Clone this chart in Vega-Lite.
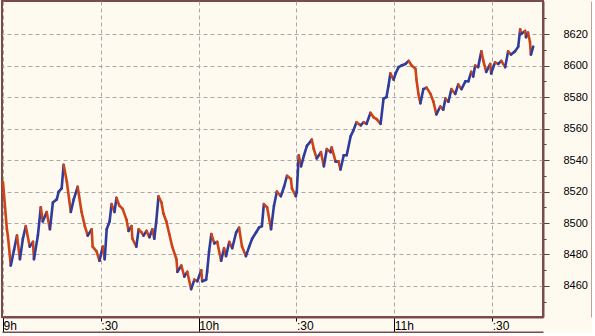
{
 "$schema": "https://vega.github.io/schema/vega-lite/v6.json",
 "width": 541,
 "height": 316,
 "padding": {"left": 1, "top": 1, "right": 0, "bottom": 0},
 "background": "#FFFAF0",
 "config": {"view": {"stroke": "#7B4B4B", "strokeWidth": 2, "fill": "#FFFAF0"}, "font": "Liberation Sans"},
 "data": {"values": [
  {"m":0,"v":8526},{"m":1.2,"v":8496},{"m":1.5,"v":8492},{"m":2.4,"v":8473},{"m":3.4,"v":8483},{"m":4.3,"v":8492},{"m":5.2,"v":8477},{"m":6.1,"v":8490},{"m":7.0,"v":8498},{"m":8.2,"v":8485},
  {"m":9.2,"v":8488},{"m":9.5,"v":8477},{"m":10.7,"v":8492},{"m":11.6,"v":8510},{"m":12.2,"v":8501},{"m":13.4,"v":8507},{"m":14.4,"v":8496},{"m":15.3,"v":8513},{"m":16.5,"v":8515},{"m":17.1,"v":8520},
  {"m":18.0,"v":8522},{"m":18.6,"v":8537},{"m":19.6,"v":8526},{"m":20.8,"v":8507},{"m":21.7,"v":8515},{"m":22.9,"v":8523},{"m":24.1,"v":8507},{"m":25.1,"v":8498},{"m":26.0,"v":8492},{"m":27.2,"v":8496},
  {"m":27.5,"v":8485},{"m":28.7,"v":8482},{"m":29.6,"v":8476},{"m":30.6,"v":8485},{"m":31.2,"v":8477},{"m":31.8,"v":8496},{"m":32.7,"v":8501},{"m":33.3,"v":8512},{"m":34.2,"v":8507},{"m":34.8,"v":8516},
  {"m":35.7,"v":8511},{"m":36.7,"v":8509},{"m":37.9,"v":8502},{"m":38.5,"v":8495},{"m":39.4,"v":8498},{"m":39.7,"v":8490},{"m":40.9,"v":8485},{"m":41.6,"v":8496},{"m":42.5,"v":8494},{"m":43.1,"v":8492},
  {"m":44.0,"v":8495},{"m":44.9,"v":8491},{"m":45.8,"v":8496},{"m":46.4,"v":8490},{"m":47.0,"v":8501},{"m":47.7,"v":8517},{"m":48.6,"v":8513},{"m":49.2,"v":8506},{"m":50.1,"v":8501},{"m":51.0,"v":8493},
  {"m":51.9,"v":8485},{"m":53.2,"v":8477},{"m":53.5,"v":8469},{"m":54.7,"v":8473},{"m":55.6,"v":8466},{"m":56.5,"v":8469},{"m":57.7,"v":8458},{"m":58.7,"v":8464},{"m":59.6,"v":8463},{"m":60.8,"v":8470},
  {"m":61.1,"v":8463},{"m":62.3,"v":8464},{"m":62.6,"v":8469},{"m":63.2,"v":8482},{"m":63.9,"v":8493},{"m":64.8,"v":8487},{"m":65.7,"v":8488},{"m":66.9,"v":8476},{"m":67.8,"v":8484},{"m":68.4,"v":8479},
  {"m":69.4,"v":8488},{"m":70.3,"v":8484},{"m":71.5,"v":8494},{"m":72.4,"v":8497},{"m":73.3,"v":8485},{"m":74.5,"v":8479},{"m":75.5,"v":8485},{"m":76.4,"v":8490},{"m":77.6,"v":8494},{"m":78.5,"v":8497},
  {"m":79.4,"v":8498},{"m":80.0,"v":8512},{"m":81.0,"v":8510},{"m":82.2,"v":8496},{"m":83.1,"v":8511},{"m":84.0,"v":8520},{"m":85.2,"v":8517},{"m":86.2,"v":8523},{"m":87.1,"v":8530},{"m":88.3,"v":8528},
  {"m":88.6,"v":8522},{"m":89.8,"v":8517},{"m":90.1,"v":8520},{"m":90.7,"v":8543},{"m":91.4,"v":8536},{"m":92.3,"v":8543},{"m":93.2,"v":8549},{"m":94.4,"v":8552},{"m":94.7,"v":8553},{"m":95.3,"v":8547},
  {"m":96.2,"v":8541},{"m":97.5,"v":8545},{"m":98.4,"v":8536},{"m":99.3,"v":8547},{"m":100.5,"v":8545},{"m":100.8,"v":8548},{"m":102.0,"v":8539},{"m":102.9,"v":8539},{"m":103.5,"v":8534},{"m":104.5,"v":8543},
  {"m":105.4,"v":8543},{"m":106.6,"v":8555},{"m":107.5,"v":8559},{"m":108.4,"v":8564},{"m":109.7,"v":8562},{"m":110.6,"v":8564},{"m":111.5,"v":8563},{"m":112.7,"v":8570},{"m":113.7,"v":8567},{"m":114.6,"v":8566},
  {"m":115.8,"v":8563},{"m":116.7,"v":8579},{"m":117.6,"v":8580},{"m":118.2,"v":8587},{"m":118.8,"v":8595},{"m":119.8,"v":8591},{"m":120.4,"v":8595},{"m":121.3,"v":8599},{"m":122.2,"v":8600},{"m":123.4,"v":8601},
  {"m":124.4,"v":8603},{"m":125.3,"v":8600},{"m":126.5,"v":8598},{"m":126.8,"v":8591},{"m":127.4,"v":8582},{"m":128.0,"v":8576},{"m":128.9,"v":8585},{"m":129.9,"v":8586},{"m":131.1,"v":8582},{"m":132.0,"v":8577},
  {"m":132.9,"v":8569},{"m":134.1,"v":8574},{"m":135.0,"v":8572},{"m":135.7,"v":8579},{"m":136.6,"v":8577},{"m":137.5,"v":8585},{"m":138.7,"v":8582},{"m":139.6,"v":8588},{"m":140.6,"v":8585},{"m":141.8,"v":8590},
  {"m":142.7,"v":8590},{"m":143.6,"v":8596},{"m":144.2,"v":8593},{"m":144.8,"v":8600},{"m":145.7,"v":8599},{"m":146.7,"v":8609},{"m":147.3,"v":8603},{"m":148.2,"v":8596},{"m":149.4,"v":8601},{"m":149.7,"v":8595},
  {"m":150.9,"v":8602},{"m":151.9,"v":8601},{"m":152.8,"v":8603},{"m":154.0,"v":8599},{"m":154.9,"v":8609},{"m":155.8,"v":8607},{"m":157.0,"v":8609},{"m":158.0,"v":8612},{"m":158.6,"v":8623},{"m":158.9,"v":8620},
  {"m":160.1,"v":8622},{"m":160.4,"v":8618},{"m":161.0,"v":8621},{"m":161.6,"v":8615},{"m":161.9,"v":8607},{"m":162.6,"v":8612}
 ]},
 "transform": [
  {"window": [{"op": "lead", "field": "m", "as": "m2"}, {"op": "lead", "field": "v", "as": "v2"}], "sort": [{"field": "m"}]},
  {"filter": "datum.m2 != null"}
 ],
 "layer": [
  {
   "mark": {"type": "rule", "strokeWidth": 2.6, "strokeCap": "round"},
   "encoding": {
    "x": {"field": "m", "type": "quantitative",
     "scale": {"domain": [-0.3, 165.6], "nice": false, "zero": false},
     "axis": {"title": null, "values": [0, 30, 60, 90, 120, 150],
      "labelExpr": "datum.value % 60 == 0 ? (9 + datum.value / 60) + 'h' : ':30'",
      "labelAlign": "left", "labelBaseline": "top", "labelDx": 3, "labelFlush": false, "labelOverlap": false,
      "labelPadding": {"condition": {"test": "datum.value % 60 == 0", "value": -12}, "value": -1},
      "labelFontSize": 12, "labelColor": "#000000",
      "tickSize": {"condition": {"test": "datum.value % 60 == 0", "value": 15}, "value": 4},
      "tickColor": "#000000", "tickWidth": 1,
      "domainColor": "#7B4B4B", "domainWidth": 2,
      "grid": true, "gridColor": "#A8A8A8", "gridDash": [4, 3], "gridWidth": 1}},
    "x2": {"field": "m2"},
    "y": {"field": "v", "type": "quantitative",
     "scale": {"domain": [8440.3, 8641], "nice": false, "zero": false},
     "axis": {"title": null, "orient": "right",
      "values": [8450, 8460, 8470, 8480, 8490, 8500, 8510, 8520, 8530, 8540, 8550, 8560, 8570, 8580, 8590, 8600, 8610, 8620, 8630],
      "format": "d",
      "labelExpr": "datum.value % 20 == 0 ? datum.label : ''",
      "labelFontSize": 11, "labelColor": "#000000", "labelPadding": 14, "labelOverlap": false,
      "tickSize": {"condition": {"test": "datum.value % 20 == 0", "value": 6}, "value": 3},
      "tickColor": "#5A3A3A",
      "domainColor": "#7B4B4B", "domainWidth": 2,
      "grid": true, "gridColor": "#A8A8A8", "gridDash": [4, 3], "gridWidth": 1,
      "gridOpacity": {"condition": {"test": "datum.value % 20 == 0", "value": 1}, "value": 0}}},
    "y2": {"field": "v2"},
    "color": {"condition": {"test": "datum.v2 >= datum.v", "value": "#2F3C9C"}, "value": "#CC4418"}
   }
  },
  {
   "mark": {"type": "rule", "opacity": 0},
   "encoding": {
    "x": {"field": "m", "type": "quantitative",
     "axis": {"title": null, "orient": "bottom", "offset": 15, "labels": false, "ticks": false, "grid": false, "domainColor": "#7B4B4B", "domainWidth": 2}},
    "x2": {"field": "m2"},
    "y": {"field": "v", "type": "quantitative",
     "axis": {"title": null, "orient": "right", "offset": 49, "labels": false, "ticks": false, "grid": false, "domainColor": "#7B4B4B", "domainWidth": 2}},
    "y2": {"field": "v2"}
   }
  }
 ],
 "resolve": {"axis": {"x": "independent", "y": "independent"}}
}
